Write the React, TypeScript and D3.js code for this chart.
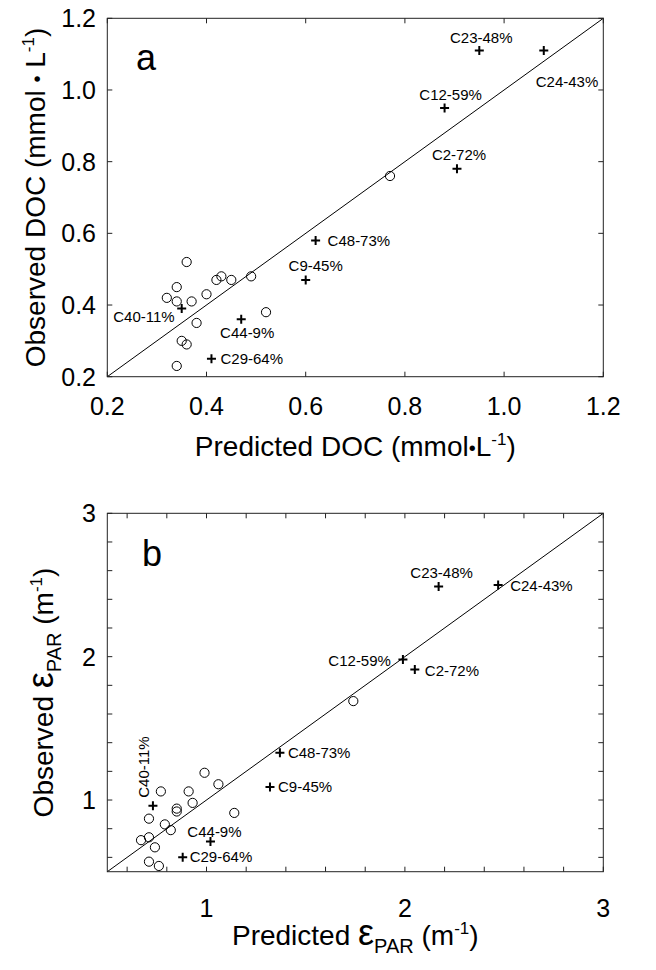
import React from "react";
import * as d3 from "d3";

const FONT = "'Liberation Sans', Arial, Helvetica, sans-serif";

// ---------- Panel a: DOC ----------
const docCirclePred = [0.32, 0.34, 0.34, 0.36, 0.37, 0.40, 0.42, 0.43, 0.45, 0.49, 0.52, 0.38, 0.35, 0.36, 0.34, 0.77];
const docCircleObs = [0.42, 0.41, 0.45, 0.52, 0.41, 0.43, 0.47, 0.48, 0.47, 0.48, 0.38, 0.35, 0.30, 0.29, 0.23, 0.76];
const crossNames = ["C23-48%", "C24-43%", "C12-59%", "C2-72%", "C48-73%", "C9-45%", "C40-11%", "C44-9%", "C29-64%"];
const docCrossPred = [0.95, 1.08, 0.88, 0.905, 0.62, 0.60, 0.35, 0.47, 0.41];
const docCrossObs = [1.11, 1.11, 0.95, 0.78, 0.58, 0.47, 0.39, 0.36, 0.25];
const docTicks = [0.2, 0.4, 0.6, 0.8, 1.0, 1.2];
const docTickLabels = ["0.2", "0.4", "0.6", "0.8", "1.0", "1.2"];

// ---------- Panel b: epsilon PAR ----------
const epsCirclePred = [0.99, 1.06, 0.91, 0.77, 0.93, 0.85, 0.85, 1.14, 0.71, 0.79, 0.82, 0.67, 0.71, 0.74, 0.71, 0.76, 1.74];
const epsCircleObs = [1.19, 1.11, 1.06, 1.06, 0.98, 0.94, 0.92, 0.91, 0.87, 0.83, 0.79, 0.72, 0.74, 0.67, 0.57, 0.54, 1.69];
const epsCrossPred = [2.17, 2.47, 1.99, 2.05, 1.37, 1.32, 0.73, 1.02, 0.88];
const epsCrossObs = [2.49, 2.50, 1.98, 1.91, 1.33, 1.09, 0.96, 0.71, 0.60];
const epsTicks = [0.6, 0.8, 1.0, 1.2, 1.4, 1.6, 1.8, 2.0, 2.2, 2.4, 2.6, 2.8, 3.0];
const epsLabelTicks = [1, 2, 3];
const epsTickLabels = ["1", "2", "3"];

// label placement (offsets from the marker, in px)
type Place = { dx: number; dy: number; anchor: string; rot?: boolean };
const docPlaces: Place[] = [
  { dx: 2, dy: -8, anchor: "middle" },
  { dx: -8, dy: 36, anchor: "start" },
  { dx: 6, dy: -8, anchor: "middle" },
  { dx: 2, dy: -9, anchor: "middle" },
  { dx: 12, dy: 5, anchor: "start" },
  { dx: 10, dy: -9, anchor: "middle" },
  { dx: -7, dy: 13, anchor: "end" },
  { dx: 6, dy: 19, anchor: "middle" },
  { dx: 9, dy: 5, anchor: "start" },
];
const epsPlaces: Place[] = [
  { dx: 3, dy: -8, anchor: "middle" },
  { dx: 12, dy: 6, anchor: "start" },
  { dx: -12, dy: 6, anchor: "end" },
  { dx: 10, dy: 6, anchor: "start" },
  { dx: 8, dy: 5, anchor: "start" },
  { dx: 8, dy: 5, anchor: "start" },
  { dx: -4, dy: -8, anchor: "start", rot: true },
  { dx: 4, dy: -5, anchor: "middle" },
  { dx: 7, dy: 5, anchor: "start" },
];

const LEFT = 107.3;
const RIGHT = 603.3;
const TICK = 5;
const FRAME = "#222";

function Plus({ x, y }: { x: number; y: number }) {
  const h = 4.5;
  return (
    <path
      d={`M${x - h},${y}H${x + h}M${x},${y - h}V${y + h}`}
      stroke="#000"
      strokeWidth={2}
      fill="none"
    />
  );
}

type PanelProps = {
  top: number;
  bottom: number;
  domain: [number, number];
  ticks: number[];
  labelTicks: number[];
  tickLabels: string[];
  circlePred: number[];
  circleObs: number[];
  crossPred: number[];
  crossObs: number[];
  places: Place[];
  letter: string;
  letterPos: [number, number];
  xLabelBaseline: number;
};

function Panel(p: PanelProps) {
  const x = d3.scaleLinear().domain(p.domain).range([LEFT, RIGHT]);
  const y = d3.scaleLinear().domain(p.domain).range([p.bottom, p.top]);
  const line = d3.line<number>().x((d) => x(d)).y((d) => y(d));
  return (
    <g fontFamily={FONT}>
      {/* 1:1 line */}
      <path d={line(p.domain) || ""} stroke="#000" strokeWidth={1} fill="none" />
      {/* frame */}
      <rect x={LEFT} y={p.top} width={RIGHT - LEFT} height={p.bottom - p.top} fill="none" stroke={FRAME} strokeWidth={1} />
      {/* ticks inward on all four sides */}
      {p.ticks.map((t, i) => (
        <g key={"t" + i} stroke={FRAME} strokeWidth={1}>
          <line x1={x(t)} x2={x(t)} y1={p.bottom} y2={p.bottom - TICK} />
          <line x1={x(t)} x2={x(t)} y1={p.top} y2={p.top + TICK} />
          <line x1={LEFT} x2={LEFT + TICK} y1={y(t)} y2={y(t)} />
          <line x1={RIGHT} x2={RIGHT - TICK} y1={y(t)} y2={y(t)} />
        </g>
      ))}
      {/* tick labels */}
      {p.labelTicks.map((t, i) => (
        <g key={"l" + i} fontSize={25} fill="#000">
          <text x={x(t)} y={p.xLabelBaseline} textAnchor="middle">{p.tickLabels[i]}</text>
          <text x={96} y={y(t)} dy="0.36em" textAnchor="end">{p.tickLabels[i]}</text>
        </g>
      ))}
      {/* circles */}
      {p.circlePred.map((v, i) => (
        <circle key={"c" + i} cx={x(v)} cy={y(p.circleObs[i])} r={4.6} fill="none" stroke="#000" strokeWidth={1} />
      ))}
      {/* crosses and labels */}
      {p.crossPred.map((v, i) => {
        const cx = x(v);
        const cy = y(p.crossObs[i]);
        const pl = p.places[i];
        return (
          <g key={"x" + i}>
            <Plus x={cx} y={cy} />
            {pl.rot ? (
              <text
                transform={`translate(${cx + pl.dx},${cy + pl.dy}) rotate(-90)`}
                fontSize={15}
                textAnchor={pl.anchor}
              >
                {crossNames[i]}
              </text>
            ) : (
              <text x={cx + pl.dx} y={cy + pl.dy} fontSize={15} textAnchor={pl.anchor}>
                {crossNames[i]}
              </text>
            )}
          </g>
        );
      })}
      <text x={p.letterPos[0]} y={p.letterPos[1]} fontSize={36}>{p.letter}</text>
    </g>
  );
}

export default function App() {
  const aTop = 18.3, aBottom = 376.7;
  const bTop = 513.3, bBottom = 871.7;
  const mid = (LEFT + RIGHT) / 2;
  return (
    <svg
      width={656}
      height={970}
      style={{ position: "absolute", left: 0, top: 0, background: "#fff" }}
      fontFamily={FONT}
    >
      <rect width={656} height={970} fill="#fff" />
      <Panel
        top={aTop}
        bottom={aBottom}
        domain={[0.2, 1.2]}
        ticks={docTicks}
        labelTicks={docTicks}
        tickLabels={docTickLabels}
        circlePred={docCirclePred}
        circleObs={docCircleObs}
        crossPred={docCrossPred}
        crossObs={docCrossObs}
        places={docPlaces}
        letter="a"
        letterPos={[136, 70]}
        xLabelBaseline={415}
      />
      <Panel
        top={bTop}
        bottom={bBottom}
        domain={[0.5, 3]}
        ticks={epsTicks}
        labelTicks={epsLabelTicks}
        tickLabels={epsTickLabels}
        circlePred={epsCirclePred}
        circleObs={epsCircleObs}
        crossPred={epsCrossPred}
        crossObs={epsCrossObs}
        places={epsPlaces}
        letter="b"
        letterPos={[142, 566]}
        xLabelBaseline={917}
      />
      {/* axis titles panel a */}
      <text x={mid} y={456} fontSize={28} textAnchor="middle">
        Predicted DOC (mmol<tspan fontSize={20} dy={-1}>{"\u2022"}</tspan>
        <tspan dy={1}>L</tspan>
        <tspan fontSize={17} dy={-11}>-1</tspan>
        <tspan dy={11}>)</tspan>
      </text>
      <text transform={`translate(45,${(aTop + aBottom) / 2}) rotate(-90)`} fontSize={28} textAnchor="middle">
        Observed DOC (mmol <tspan fontSize={20} dy={-1}>{"\u2022"}</tspan>
        <tspan dy={1}> L</tspan>
        <tspan fontSize={17} dy={-11}>-1</tspan>
        <tspan dy={11}>)</tspan>
      </text>
      {/* axis titles panel b */}
      <text x={mid} y={945} fontSize={28} textAnchor="middle">
        Predicted <tspan fontSize={36}>{"\u03B5"}</tspan>
        <tspan fontSize={20} dy={8}>PAR</tspan>
        <tspan dy={-8}> (m</tspan>
        <tspan fontSize={17} dy={-11}>-1</tspan>
        <tspan dy={11}>)</tspan>
      </text>
      <text transform={`translate(53,${(bTop + bBottom) / 2}) rotate(-90)`} fontSize={28} textAnchor="middle">
        Observed <tspan fontSize={36}>{"\u03B5"}</tspan>
        <tspan fontSize={20} dy={8}>PAR</tspan>
        <tspan dy={-8}> (m</tspan>
        <tspan fontSize={17} dy={-11}>-1</tspan>
        <tspan dy={11}>)</tspan>
      </text>
    </svg>
  );
}
